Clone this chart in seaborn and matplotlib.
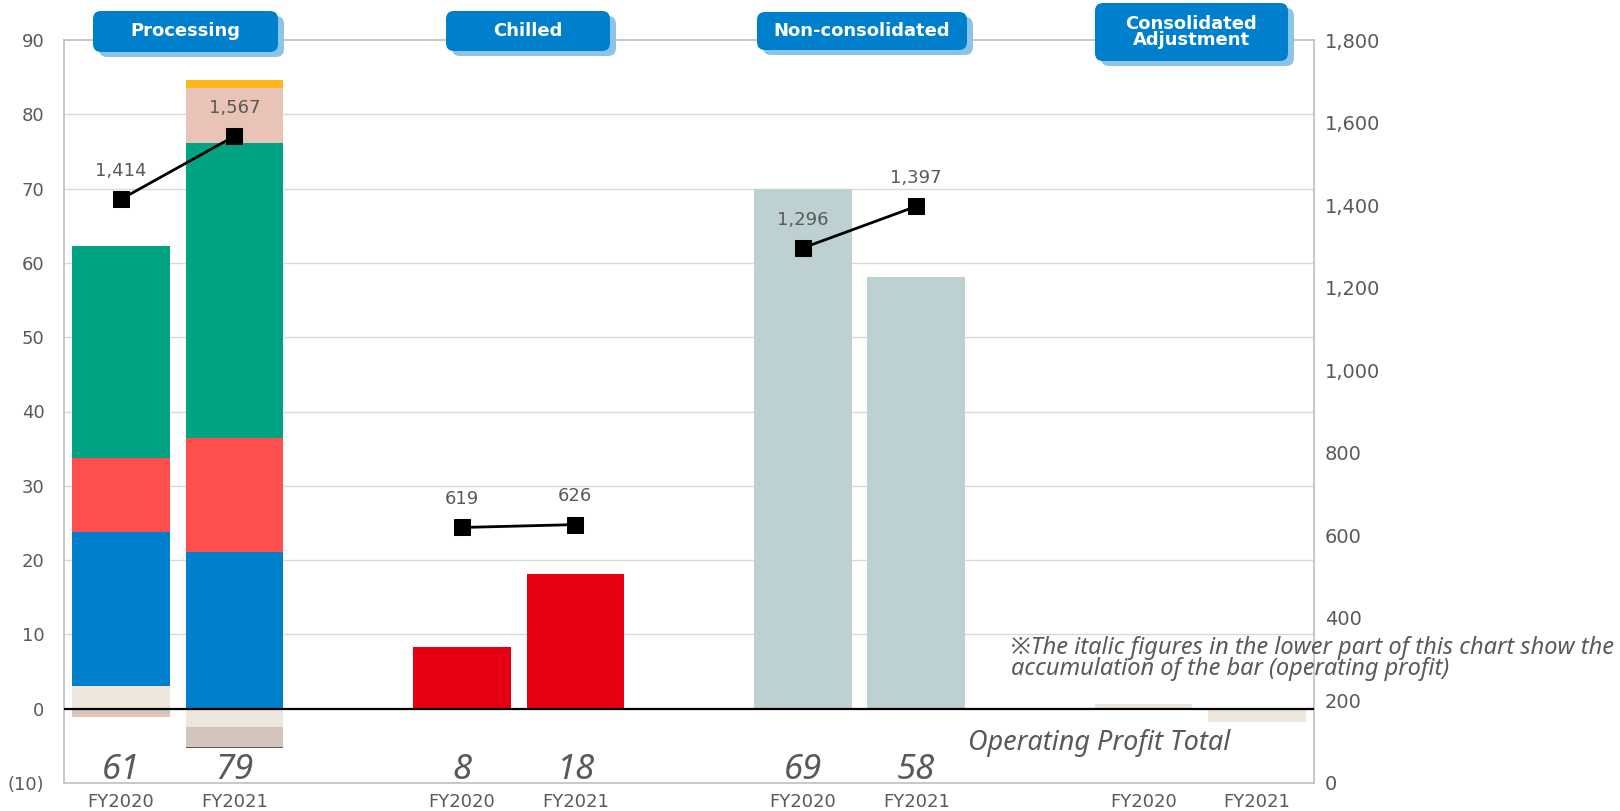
import numpy as np
import matplotlib
matplotlib.use("Agg")
import matplotlib.pyplot as plt
import seaborn as sns
from matplotlib.patches import FancyBboxPatch
from matplotlib.transforms import IdentityTransform
from matplotlib.ticker import FixedLocator, FuncFormatter

# ---- data (100 million yen) -------------------------------------------
segments = ["Processing", "Chilled", "Non-consolidated", "Consolidated\nAdjustment"]
years = ["FY2020", "FY2021"]

# Processing segment operating profit, stacked by sub-business
proc_other = [3.1, -2.4]
proc_blue = [20.7, 21.1]
proc_red = [9.9, 15.4]
proc_green = [28.6, 39.6]
proc_pink = [0.0, 7.4]
proc_orange = [0.0, 1.1]
proc_taupe = [-0.7, -2.75]
proc_salmon = [-0.35, 0.0]
proc_dark = [0.0, -0.1]

chilled_profit = [8.3, 18.1]
noncons_profit = [69.9, 58.1]
adjust_profit = [0.65, -1.75]

# net sales (right axis)
proc_sales = [1414, 1567]
chilled_sales = [619, 626]
noncons_sales = [1296, 1397]

left_ticks = [-10, 0, 10, 20, 30, 40, 50, 60, 70, 80, 90]
right_ticks = [0, 200, 400, 600, 800, 1000, 1200, 1400, 1600, 1800]

# ---- style ------------------------------------------------------------
sns.set_theme(style="white")
plt.rcParams["font.family"] = ["DejaVu Sans", "Noto Sans CJK JP"]
ITALIC_FAMILY = ["Noto Sans", "DejaVu Sans", "Noto Sans CJK JP"]
GRAY_TXT = "#595959"

C_OTHER = "#EDE6DD"
C_BLUE = "#0080CC"
C_RED = "#FF4F4F"
C_GREEN = "#00A482"
C_PINK = "#E8C3B6"
C_ORANGE = "#FDB71A"
C_TAUPE = "#D3C5BC"
C_SALMON = "#ECC3B4"
C_DARK = "#595959"
C_CHILLED = "#E60012"
C_NONCONS = "#BDD0D2"

fig = plt.figure(figsize=(16.2, 8.11), dpi=100)
ax = fig.add_axes([64 / 1620, 1 - 783 / 811, (1314 - 64) / 1620, (783 - 40) / 811])

width = 0.86
group_step = 3


def xpos(g):
    return [g * group_step + i for i in range(len(years))]


def stacked(ax, xs, layers):
    pos = np.zeros(len(xs))
    neg = np.zeros(len(xs))
    for vals, color in layers:
        vals = np.asarray(vals, dtype=float)
        bottoms = np.where(vals >= 0, pos, neg)
        ax.bar(xs, vals, width=width, bottom=bottoms, color=color,
               edgecolor="none", linewidth=0, zorder=2)
        pos = pos + np.where(vals >= 0, vals, 0)
        neg = neg + np.where(vals < 0, vals, 0)
    return pos + neg


proc_tot = stacked(ax, xpos(0), [
    (proc_other, C_OTHER), (proc_blue, C_BLUE), (proc_red, C_RED),
    (proc_green, C_GREEN), (proc_pink, C_PINK), (proc_orange, C_ORANGE),
    (proc_taupe, C_TAUPE), (proc_salmon, C_SALMON), (proc_dark, C_DARK)])
chilled_tot = stacked(ax, xpos(1), [(chilled_profit, C_CHILLED)])
noncons_tot = stacked(ax, xpos(2), [(noncons_profit, C_NONCONS)])
stacked(ax, xpos(3), [(adjust_profit, C_OTHER)])

ax.set_xlim(-0.5, 10.5)
ax.set_ylim(-10, 90)

# grid and zero line
for t in left_ticks[2:-1]:
    ax.axhline(t, color="#D9D9D9", lw=1, zorder=0)
ax.axhline(0, color="black", lw=1.6, zorder=3)

for sp in ax.spines.values():
    sp.set_visible(True)
    sp.set_color("#BFBFBF")
    sp.set_linewidth(1.2)

ax.yaxis.set_major_locator(FixedLocator(left_ticks))
ax.yaxis.set_major_formatter(FuncFormatter(
    lambda v, p: f"({abs(int(v))})" if v < 0 else f"{int(v)}"))
ax.tick_params(axis="y", length=0, pad=14, labelsize=13, labelcolor=GRAY_TXT)

all_x = sum((xpos(g) for g in range(len(segments))), [])
ax.set_xticks(all_x)
ax.set_xticklabels(years * len(segments))
ax.tick_params(axis="x", length=0, pad=7, labelsize=13, labelcolor=GRAY_TXT)

# operating profit totals in italics
for g, tot in enumerate([proc_tot, chilled_tot, noncons_tot]):
    for x, v in zip(xpos(g), tot):
        ax.text(x, -8.2, f"{int(np.floor(v + 1e-9))}", ha="center", va="center",
                fontsize=25, style="italic", family=ITALIC_FAMILY,
                color=GRAY_TXT, zorder=5)

ax.text(9.76, -4.6, "Operating Profit Total", ha="right", va="center",
        fontsize=19.5, style="italic", family=ITALIC_FAMILY, color=GRAY_TXT,
        zorder=5)
ax.text(7.83, 6.8,
        "\u203bThe italic figures in the lower part of this chart show the\n"
        "accumulation of the bar (operating profit)",
        ha="left", va="center", fontsize=17, style="italic",
        family=ITALIC_FAMILY, color=GRAY_TXT,
        linespacing=0.85, zorder=6, clip_on=False)

# ---- net sales on the right axis -------------------------------------
ax2 = ax.twinx()
ax2.set_ylim(0, 1800)
ax2.yaxis.set_major_locator(FixedLocator(right_ticks))
ax2.yaxis.set_major_formatter(FuncFormatter(lambda v, p: f"{int(v):,}"))
ax2.tick_params(axis="y", length=0, pad=8, labelsize=14, labelcolor=GRAY_TXT)
for sp in ax2.spines.values():
    sp.set_visible(False)

for g, sales in enumerate([proc_sales, chilled_sales, noncons_sales]):
    xs = xpos(g)
    sns.lineplot(x=xs, y=sales, ax=ax2, color="black", lw=2, marker="s",
                 markersize=12, markeredgecolor="black", markerfacecolor="black",
                 zorder=4)
    for x, v in zip(xs, sales):
        ax2.annotate(f"{v:,}", (x, v), xytext=(0, 14), textcoords="offset points",
                     ha="center", va="bottom", fontsize=13, color=GRAY_TXT)
ax2.set_xlim(-0.5, 10.5)
ax2.set_ylabel("")

# ---- segment header badges --------------------------------------------
H = 811
badges = [
    # (left px, top px, width px, height px)
    (93, 11, 185, 41),
    (446, 11, 164, 40),
    (757, 12, 210, 38),
    (1095, 3, 193, 58),
]
for (x0, y0, w, h), name in zip(badges, segments):
    shadow = FancyBboxPatch((x0 + 6, H - y0 - h - 5), w, h,
                            boxstyle="round,pad=0,rounding_size=8",
                            transform=IdentityTransform(), fc="#8EC3E8",
                            ec="none", zorder=10)
    box = FancyBboxPatch((x0, H - y0 - h), w, h,
                         boxstyle="round,pad=0,rounding_size=8",
                         transform=IdentityTransform(), fc="#0080CC",
                         ec="none", zorder=11)
    fig.patches.extend([shadow, box])
    fig.text((x0 + w / 2) / 1620, 1 - (y0 + h / 2) / H, name,
             ha="center", va="center", color="white", fontsize=13,
             fontweight="bold", linespacing=0.85, zorder=12)

fig.savefig("out.png", dpi=100)
